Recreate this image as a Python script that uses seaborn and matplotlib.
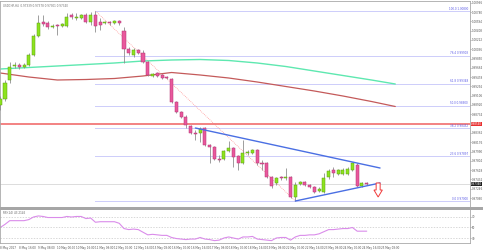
import matplotlib
matplotlib.use("Agg")
import matplotlib.pyplot as plt
import numpy as np
import pandas as pd
import seaborn as sns

# ---------------- data ----------------
bar_index = list(range(-1, 77))
opens = [0.9892, 0.9904, 0.9942, 0.9970, 0.9972, 0.9968, 0.9972, 0.9992, 1.0030, 1.0058,
         1.0056, 1.0048, 1.0052, 1.0050, 1.0050, 1.0072, 1.0066, 1.0066, 1.0072, 1.0058,
         1.0072, 1.0058, 1.0056, 1.0058, 1.0056, 1.0060, 1.0040, 1.0004, 0.9992, 1.0002,
         0.9996, 0.9978, 0.9950, 0.9956, 0.9952, 0.9948, 0.9944, 0.9898, 0.9878, 0.9868,
         0.9850, 0.9836, 0.9836, 0.9846, 0.9812, 0.9808, 0.9784, 0.9784, 0.9800, 0.9806,
         0.9790, 0.9776, 0.9796, 0.9796, 0.9802, 0.9776, 0.9776, 0.9748, 0.9736, 0.9748,
         0.9746, 0.9748, 0.9708, 0.9734, 0.9738, 0.9732, 0.9728, 0.9720, 0.9718, 0.9748,
         0.9762, 0.9754, 0.9754, 0.9754, 0.9762, 0.9772, 0.9730, 0.9736]
closes = [0.9904, 0.9936, 0.9968, 0.9972, 0.9968, 0.9972, 0.9992, 1.0030, 1.0056, 1.0054,
          1.0048, 1.0050, 1.0050, 1.0054, 1.0068, 1.0068, 1.0068, 1.0072, 1.0058, 1.0072,
          1.0050, 1.0052, 1.0058, 1.0056, 1.0060, 1.0056, 1.0004, 0.9996, 1.0002, 0.9996,
          0.9978, 0.9952, 0.9954, 0.9950, 0.9946, 0.9946, 0.9898, 0.9878, 0.9868, 0.9852,
          0.9836, 0.9834, 0.9844, 0.9812, 0.9808, 0.9784, 0.9782, 0.9800, 0.9806, 0.9788,
          0.9776, 0.9796, 0.9798, 0.9802, 0.9776, 0.9774, 0.9748, 0.9730, 0.9746, 0.9746,
          0.9748, 0.9708, 0.9732, 0.9738, 0.9732, 0.9728, 0.9718, 0.9724, 0.9746, 0.9760,
          0.9756, 0.9762, 0.9762, 0.9764, 0.9776, 0.9730, 0.9736, 0.9734]
highs = [0.9910, 0.9942, 0.9978, 0.9978, 0.9976, 0.9976, 0.9996, 1.0034, 1.0072, 1.0072,
         1.0060, 1.0054, 1.0054, 1.0056, 1.0076, 1.0076, 1.0076, 1.0074, 1.0076, 1.0078,
         1.0080, 1.0066, 1.0060, 1.0060, 1.0062, 1.0062, 1.0048, 1.0008, 1.0006, 1.0004,
         1.0002, 0.9980, 0.9956, 0.9958, 0.9954, 0.9950, 0.9946, 0.9900, 0.9880, 0.9872,
         0.9852, 0.9842, 0.9848, 0.9848, 0.9814, 0.9810, 0.9792, 0.9802, 0.9820, 0.9808,
         0.9792, 0.9822, 0.9802, 0.9804, 0.9804, 0.9782, 0.9778, 0.9750, 0.9748, 0.9750,
         0.9766, 0.9750, 0.9738, 0.9740, 0.9740, 0.9734, 0.9730, 0.9728, 0.9756, 0.9764,
         0.9768, 0.9764, 0.9766, 0.9768, 0.9778, 0.9776, 0.9738, 0.9738]
lows = [0.9882, 0.9900, 0.9936, 0.9966, 0.9964, 0.9966, 0.9970, 0.9990, 1.0028, 1.0050,
        1.0044, 1.0046, 1.0032, 1.0048, 1.0048, 1.0064, 1.0062, 1.0064, 1.0056, 1.0052,
        1.0038, 1.0042, 1.0054, 1.0052, 1.0054, 1.0052, 0.9976, 0.9992, 0.9988, 0.9994,
        0.9976, 0.9950, 0.9948, 0.9948, 0.9944, 0.9944, 0.9896, 0.9876, 0.9866, 0.9846,
        0.9834, 0.9822, 0.9818, 0.9810, 0.9776, 0.9782, 0.9778, 0.9782, 0.9798, 0.9768,
        0.9762, 0.9774, 0.9792, 0.9794, 0.9772, 0.9762, 0.9746, 0.9726, 0.9732, 0.9742,
        0.9742, 0.9706, 0.9700, 0.9732, 0.9730, 0.9726, 0.9716, 0.9718, 0.9716, 0.9744,
        0.9748, 0.9752, 0.9752, 0.9752, 0.9760, 0.9728, 0.9728, 0.9732]

ma_index = [-1, 5, 11, 17, 23, 29, 35, 41, 47, 53, 59, 65, 71, 77, 82]
ma_green = [0.9964, 0.9967, 0.9970, 0.9973, 0.9976, 0.9980, 0.9982, 0.9983, 0.9981,
            0.9976, 0.9969, 0.9960, 0.9951, 0.9942, 0.9934]
ma_red = [0.9956, 0.9948, 0.9942, 0.9943, 0.9945, 0.9950, 0.9957, 0.9952, 0.9946,
          0.9938, 0.9929, 0.9920, 0.9910, 0.9899, 0.9889]

rsi = [50, 56, 63, 63, 63, 63, 65, 70, 72, 71, 69, 69, 69, 69, 71, 70, 71, 71, 67, 68,
       60, 61, 61, 61, 61, 58, 48, 46, 47, 46, 41, 36, 37, 36, 35, 35, 31, 29, 28, 27,
       28, 28, 31, 28, 27, 25, 26, 30, 32, 30, 28, 32, 32, 33, 28, 27, 26, 25, 30, 31,
       31, 26, 32, 35, 35, 36, 36, 38, 42, 46, 46, 47, 48, 48, 50, 43, 43, 43]
rsi_levels = [70, 50, 30]

fib_levels = [0.0, 23.6, 38.2, 50.0, 61.8, 76.4, 100.0]
fib_low, fib_high = 0.9700, 1.0080
fib_start = 19
fib_low_bar = 61
red_level = 0.9854
last_price = 0.9734
upper_trend_x = [40, 78.8]
upper_trend_y = [0.9846, 0.9766]
lower_trend_x = [61, 78.8]
lower_trend_y = [0.9700, 0.9736]

price_ticks = [1.00966, 1.00780, 1.00594, 1.00408, 1.00222, 1.00036, 0.99850, 0.99664,
               0.99478, 0.99292, 0.99106, 0.98920, 0.98734, 0.98362, 0.98176, 0.97990,
               0.97804, 0.97618, 0.97432, 0.97246, 0.97060]
date_ticks = [-1, 3, 7, 11, 15, 19, 23, 27, 31, 35, 39, 43, 47, 51, 55, 59, 63, 67, 71, 75, 79]
date_labels = ["8 May 2017", "8 May 16:00", "9 May 08:00", "10 May 00:00", "10 May 16:00",
               "11 May 08:00", "12 May 00:00", "12 May 16:00", "15 May 08:00", "16 May 00:00",
               "16 May 16:00", "17 May 08:00", "18 May 00:00", "18 May 16:00", "19 May 08:00",
               "22 May 00:00", "22 May 16:00", "23 May 08:00", "24 May 00:00", "24 May 16:00",
               "25 May 08:00"]
title_text = "USDCHF,H4  0.97339 0.97378 0.97301 0.97340"
rsi_text = "RSI(14) 43.2145"

# ---------------- style ----------------
sns.set_style("white")
plt.rcParams["font.family"] = ["DejaVu Sans"]
FS = 2.0
W, H = 483, 252
fig = plt.figure(figsize=(W / 100, H / 100), dpi=100)
fig.patch.set_facecolor("white")

XL = (-1.05, 97.7)
ax = fig.add_axes([0.0, 1 - 207 / H, 470 / W, 206 / H])
rax = fig.add_axes([0.0, 1 - 243 / H, 470 / W, 34 / H])

df = pd.DataFrame({"i": bar_index, "o": opens, "c": closes, "h": highs, "l": lows})

# moving averages
sns.lineplot(x=ma_index, y=ma_green, ax=ax, color="#5EE8B0", linewidth=1.0, zorder=2)
sns.lineplot(x=ma_index, y=ma_red, ax=ax, color="#C45A5A", linewidth=0.9, zorder=2)

# fibonacci
for lv in fib_levels:
    p = fib_low + (fib_high - fib_low) * lv / 100
    ax.plot([fib_start, XL[1]], [p, p], color="#8C8CF5", lw=0.6, ls=(0, (1.2, 1.2)), zorder=1)
    ax.text(97.3, p + 0.0001, f"{lv:.1f} {p:.5f}", fontsize=FS, color="#5A5AE6",
            ha="right", va="bottom")
ax.plot([fib_start, fib_low_bar], [fib_high, fib_low], color="#FF8A8A", lw=0.5,
        ls=(0, (1.2, 1.5)), zorder=1)

# horizontal lines
ax.axhline(red_level, color="#F27878", lw=1.3, zorder=1)
ax.axhline(last_price, color="#CFCFCF", lw=0.5, zorder=0.5)

# trend lines
ax.plot(upper_trend_x, upper_trend_y, color="#4A6FE3", lw=1.0, zorder=4)
ax.plot(lower_trend_x, lower_trend_y, color="#4A6FE3", lw=1.0, zorder=4)

# candles
up = df["c"] >= df["o"]
ax.vlines(df["i"], df["l"], df["h"], color="#8E8E8E", lw=0.6, zorder=3)
body = (df["c"] - df["o"]).abs().clip(lower=0.00012)
bottom = df[["o", "c"]].min(axis=1)
ax.bar(df["i"][up], body[up], bottom=bottom[up], width=0.64, color="#8DE31E",
       edgecolor="#5E9E14", linewidth=0.35, zorder=3.5)
ax.bar(df["i"][~up], body[~up], bottom=bottom[~up], width=0.64, color="#E9589C",
       edgecolor="#B23573", linewidth=0.35, zorder=3.5)

# arrow
ax_c, top_p, neck_p, tip_p = 78.4, 0.9736, 0.9722, 0.9708
ax.fill([ax_c - 0.42, ax_c + 0.42, ax_c + 0.42, ax_c + 0.88, ax_c, ax_c - 0.88, ax_c - 0.42],
        [top_p, top_p, neck_p, neck_p, tip_p, neck_p, neck_p],
        facecolor="white", edgecolor="#F03A3A", lw=0.7, zorder=5)

ax.set_xlim(*XL)
ax.set_ylim(0.9688, 1.0100)
ax.set_xticks([])
ax.yaxis.tick_right()
ax.set_yticks(price_ticks)
ax.set_yticklabels([f"{t:.5f}" for t in price_ticks])
ax.tick_params(axis="y", labelsize=FS, length=1, width=0.4, pad=0.6, colors="#555555")
for s in ax.spines.values():
    s.set_color("#A8A8A8")
    s.set_linewidth(0.6)
ax.spines["bottom"].set_visible(False)

# price labels on axis
ax.text(1.002, red_level, f"{red_level:.5f}", transform=ax.get_yaxis_transform(),
        fontsize=FS, color="white", va="center", ha="left",
        bbox=dict(boxstyle="square,pad=0.15", fc="#E83030", ec="none"))
ax.text(1.002, last_price, f"{last_price:.5f}", transform=ax.get_yaxis_transform(),
        fontsize=FS, color="white", va="center", ha="left",
        bbox=dict(boxstyle="square,pad=0.15", fc="#202020", ec="none"))
ax.text(0.006, 0.985, title_text, transform=ax.transAxes, fontsize=FS, color="#707070",
        ha="left", va="top")

# separator
fig.patches.append(plt.Rectangle((0, 1 - 209.5 / H), 1, 2.5 / H, transform=fig.transFigure,
                                 facecolor="#A6A6A6", edgecolor="none"))

# RSI
for lv in rsi_levels:
    rax.axhline(lv, color="#C8C8C8", lw=0.5, ls=(0, (2, 2)))
sns.lineplot(x=bar_index, y=rsi, ax=rax, color="#DA8CEA", linewidth=0.8)
rax.set_xlim(*XL)
rax.set_ylim(20.5, 85.2)
rax.yaxis.tick_right()
rax.set_yticks(rsi_levels)
rax.set_yticklabels([str(v) for v in rsi_levels])
rax.set_xticks(date_ticks)
rax.set_xticklabels(date_labels, ha="left")
rax.tick_params(axis="y", labelsize=FS, length=1, width=0.4, pad=0.6, colors="#555555")
rax.tick_params(axis="x", labelsize=FS, length=1.5, width=0.4, pad=0.8, colors="#555555")
rax.set_xlabel("")
rax.set_ylabel("")
for s in rax.spines.values():
    s.set_color("#A8A8A8")
    s.set_linewidth(0.6)
rax.text(0.006, 0.95, rsi_text, transform=rax.transAxes, fontsize=FS, color="#606060",
         ha="left", va="top")

fig.savefig("out.png", dpi=100, facecolor="white")
